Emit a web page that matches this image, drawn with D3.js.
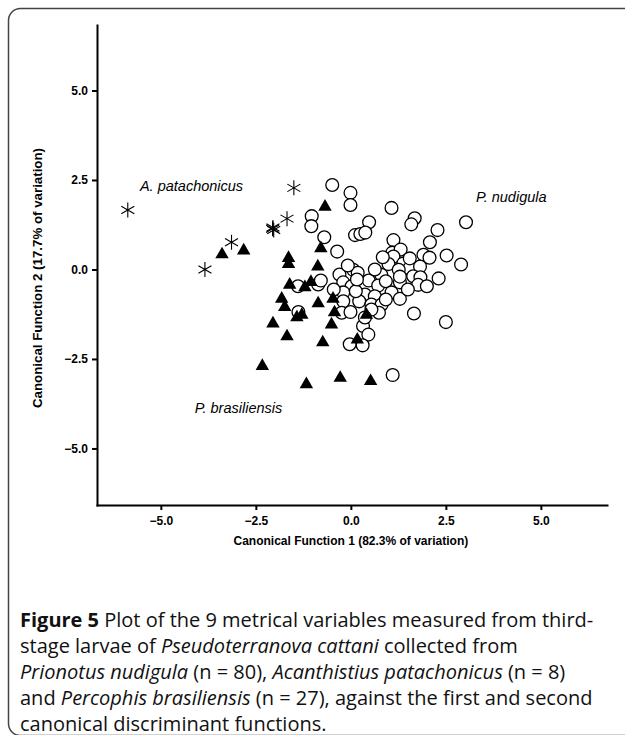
<!DOCTYPE html>
<html>
<head>
<meta charset="utf-8">
<script src="https://cdn.jsdelivr.net/npm/d3@7"></script>
<style>
  body { margin: 0; background: #fff; }
  .axis text { font-family: "Liberation Sans", Arial, sans-serif; font-weight: bold; font-size: 12px; fill: #000; }
  .axis path, .axis line { stroke: #000; stroke-width: 2; }
  .caption { font-family: "Open Sans", "Noto Sans", sans-serif; font-size: 20px; fill: #111; }
</style>
</head>
<body>
<div class="fig"></div>
<script>
// Canonical function scores, one pair of arrays per group
const nudigulaX = [-0.49,-0.01,-0.01,1.07,1.68,1.59,0.48,0.11,0.25,0.38,3.03,2.28,2.08,1.12,-0.36,-0.70,-1.03,-1.04,1.09,1.31,
  1.12,1.91,2.07,2.52,2.90,1.38,0.99,1.54,1.82,1.26,-0.30,0.06,0.18,0.47,0.80,1.64,1.83,2.31,-0.20,0.02,
  0.72,0.92,1.29,1.77,-0.20,0.37,0.63,1.07,1.29,-0.20,0.22,0.54,0.81,-0.24,-0.01,0.74,0.54,0.32,0.46,-0.03,
  0.31,1.66,2.50,1.10,-1.39,-0.86,-0.79,-1.38,1.29,-0.08,0.63,0.84,1.55,0.13,0.92,-0.45,1.50,0.37,2.00,0.16]
const nudigulaY = [2.36,2.14,1.80,1.72,1.43,1.26,1.32,0.96,0.99,1.03,1.32,1.10,0.76,0.82,0.50,0.90,1.49,1.21,0.47,0.56,
  0.36,0.41,0.33,0.39,0.14,0.17,0.15,0.03,0.08,-0.01,-0.14,-0.01,-0.09,-0.31,-0.15,-0.19,-0.22,-0.25,-0.36,-0.47,
  -0.45,-0.33,-0.36,-0.43,-0.64,-0.70,-0.75,-0.64,-0.82,-0.89,-0.89,-0.98,-0.98,-1.21,-1.19,-1.21,-1.12,-1.58,-1.82,-2.09,
  -2.12,-1.23,-1.47,-2.95,-0.47,-0.42,-0.31,-1.19,-0.20,0.11,0.00,0.34,0.31,-0.61,-0.84,-0.56,-0.56,-1.34,-0.47,-0.28]

const brasiliensisX = [-0.68,-0.79,-3.39,-2.82,-1.64,-1.64,-0.87,-1.61,-1.21,-1.05,-1.82,-1.74,-0.86,-0.47,
  -0.43,-1.42,-1.29,-2.05,-0.51,-1.68,-0.74,0.41,0.17,-2.33,-1.17,-0.28,0.52]
const brasiliensisY = [1.75,0.59,0.42,0.53,0.32,0.15,0.08,-0.43,-0.50,-0.35,-0.82,-1.05,-0.95,-0.82,
  -1.20,-1.34,-1.27,-1.51,-1.54,-1.87,-2.04,-1.27,-1.96,-2.70,-3.21,-3.03,-3.12]

const patachonicusX = [-5.87,-1.50,-1.68,-2.06,-2.03,-3.14,-3.84,-2.05]
const patachonicusY = [1.66,2.28,1.42,1.14,1.10,0.76,0.00,1.17]

const xTicks = [-5, -2.5, 0, 2.5, 5]
const yTicks = [-5, -2.5, 0, 2.5, 5]

const groupLabels = [
  {text: 'A. patachonicus', x: -5.55, y: 2.19},
  {text: 'P. nudigula', x: 3.29, y: 1.89},
  {text: 'P. brasiliensis', x: -4.11, y: -4.0}
]

const width = 625, height = 735

const xScale = d3.scaleLinear().domain([-6.68, 6.74]).range([97, 607])
const yScale = d3.scaleLinear().domain([-6.58, 6.83]).range([505, 25])

const svg = d3.select('.fig').append('svg')
  .attr('width', width)
  .attr('height', height)

// figure frame
svg.append('rect')
  .attr('x', 8.5).attr('y', 8.5)
  .attr('width', 640).attr('height', 727)
  .attr('rx', 12)
  .attr('fill', 'none')
  .attr('stroke', '#444')
  .attr('stroke-width', 1.5)

svg.append('g')
  .attr('class', 'y axis')
  .attr('transform', 'translate(97,0)')
  .call(d3.axisLeft(yScale).tickValues(yTicks).tickSize(5).tickSizeOuter(0).tickPadding(4).tickFormat(d3.format('.1f')))

svg.append('g')
  .attr('class', 'x axis')
  .attr('transform', 'translate(0,505)')
  .call(d3.axisBottom(xScale).tickValues(xTicks).tickSize(5).tickSizeOuter(0).tickPadding(6).tickFormat(d3.format('.1f')))

svg.selectAll('.axis .domain').attr('stroke-linecap', 'square')

svg.append('text')
  .attr('x', xScale(0)).attr('y', 545)
  .attr('text-anchor', 'middle')
  .style('font', 'bold 12px "Liberation Sans", Arial, sans-serif')
  .text('Canonical Function 1 (82.3% of variation)')

svg.append('text')
  .attr('transform', 'translate(42,278) rotate(-90)')
  .attr('text-anchor', 'middle')
  .style('font', 'bold 13.3px "Liberation Sans", Arial, sans-serif')
  .text('Canonical Function 2 (17.7% of variation)')

const plot = svg.append('g')

plot.selectAll('circle.nud')
  .data(d3.zip(nudigulaX, nudigulaY))
  .join('circle')
  .attr('class', 'nud')
  .attr('cx', d => xScale(d[0]))
  .attr('cy', d => yScale(d[1]))
  .attr('r', 6.4)
  .attr('fill', '#fff')
  .attr('stroke', '#000')
  .attr('stroke-width', 1.3)

const tri = d3.symbol().type(d3.symbolTriangle).size(78)

plot.selectAll('path.bras')
  .data(d3.zip(brasiliensisX, brasiliensisY))
  .join('path')
  .attr('class', 'bras')
  .attr('d', tri)
  .attr('transform', d => 'translate(' + xScale(d[0]) + ',' + yScale(d[1]) + ')')
  .attr('fill', '#000')

// six-armed asterisk
const r = 7.5
const star = [0, 60, 120].map(a => {
  const t = (a + 90) * Math.PI / 180
  return 'M' + (-r * Math.cos(t)) + ',' + (-r * Math.sin(t)) + 'L' + (r * Math.cos(t)) + ',' + (r * Math.sin(t))
}).join('')

plot.selectAll('path.pat')
  .data(d3.zip(patachonicusX, patachonicusY))
  .join('path')
  .attr('class', 'pat')
  .attr('d', star)
  .attr('transform', d => 'translate(' + xScale(d[0]) + ',' + yScale(d[1]) + ')')
  .attr('stroke', '#000')
  .attr('stroke-width', 1.1)
  .attr('fill', 'none')

svg.selectAll('text.group')
  .data(groupLabels)
  .join('text')
  .attr('class', 'group')
  .attr('x', d => xScale(d.x))
  .attr('y', d => yScale(d.y))
  .style('font', 'italic 14.5px "Liberation Sans", Arial, sans-serif')
  .text(d => d.text)

// caption
const caption = [
  [['b', 'Figure 5'], ['', ' Plot of the 9 metrical variables measured from third-']],
  [['', 'stage larvae of '], ['i', 'Pseudoterranova cattani'], ['', ' collected from']],
  [['i', 'Prionotus nudigula'], ['', ' (n = 80), '], ['i', 'Acanthistius patachonicus'], ['', ' (n = 8)']],
  [['', 'and '], ['i', 'Percophis brasiliensis'], ['', ' (n = 27), against the first and second']],
  [['', 'canonical discriminant functions.']]
]

const cap = svg.append('text').attr('class', 'caption')
caption.forEach((line, i) => {
  line.forEach((part, j) => {
    const span = cap.append('tspan').text(part[1])
    if (j === 0) span.attr('x', 20).attr('y', 627 + i * 26)
    if (part[0] === 'b') span.attr('font-weight', 'bold')
    if (part[0] === 'i') span.attr('font-style', 'italic')
  })
})
</script>
</body>
</html>
